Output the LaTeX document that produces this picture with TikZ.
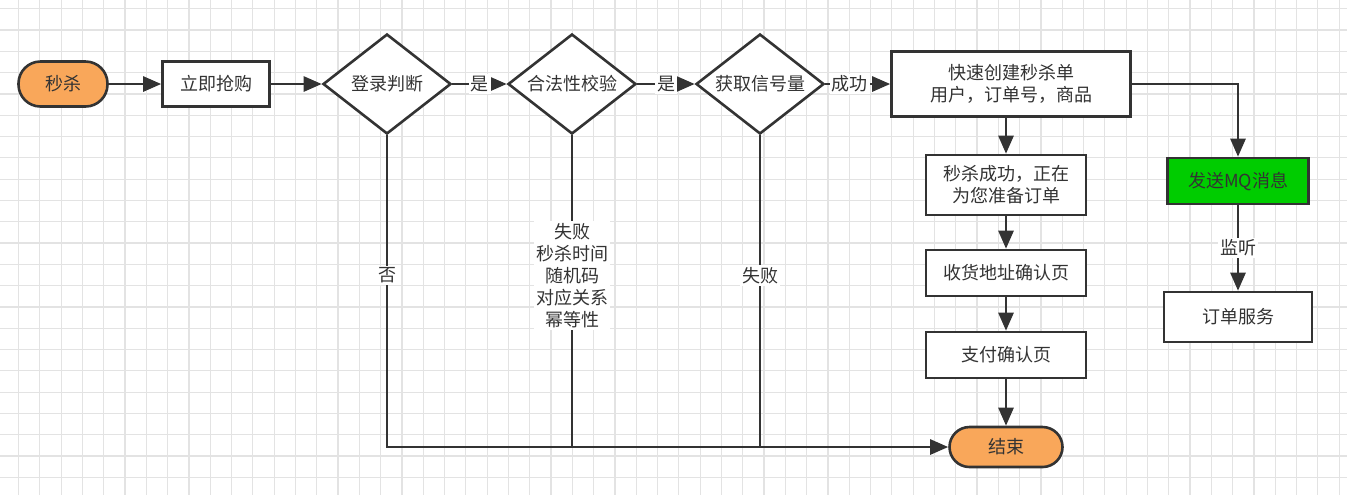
\documentclass[tikz,border=0pt]{standalone}
\usepackage{fontspec}
\setmainfont{Noto Sans CJK SC}
\usetikzlibrary{arrows.meta,shapes.geometric}

\definecolor{linegray}{HTML}{333333}
\definecolor{txtgray}{HTML}{333333}
\definecolor{gridgray}{HTML}{E3E3E3}
\definecolor{termorange}{HTML}{F9A75A}
\definecolor{mqgreen}{HTML}{00CC00}

\begin{document}
\begin{tikzpicture}[x=0.5pt,y=-0.5pt,>={Triangle[length=9pt,width=7.5pt]},
  every node/.style={font=\fontsize{9}{11}\selectfont,text=txtgray},
  box/.style={draw=linegray,line width=1.3pt,fill=white,align=center,inner sep=0pt},
  term/.style={box,rounded corners=10pt,fill=termorange},
  decide/.style={draw=linegray,line width=1.3pt,fill=white,diamond,aspect=1.3,
    minimum width=64pt,minimum height=50pt,inner sep=0pt},
  flow/.style={->,draw=linegray,line width=1.3pt},
  lbl/.style={fill=white,inner sep=1pt,align=center}]
  \useasboundingbox (0,0) rectangle (1347,495);
  \fill[white] (0,0) rectangle (1347,495);
  % background grid
  \foreach \gx in {18.5,39.8,...,1347} \draw[gridgray,line width=0.6pt] (\gx,0)--(\gx,495);
  \foreach \gy in {8.7,30,...,495} \draw[gridgray,line width=0.6pt] (0,\gy)--(1347,\gy);

  % main row
  \node[term,minimum width=44.5pt,minimum height=22.5pt,rounded corners=11pt] (start) at (63,84) {秒杀};
  \node[box,minimum width=53.5pt,minimum height=22.5pt] (buy) at (216,84) {立即抢购};
  \node[decide] (login) at (387,84) {登录判断};
  \node[decide] (check) at (572,84) {合法性校验};
  \node[decide] (sema) at (760,84) {获取信号量};
  \node[box,minimum width=119.5pt,minimum height=32.5pt] (create) at (1011,84) {快速创建秒杀单\\用户，订单号，商品};

  % order column
  \node[box,minimum width=80pt,minimum height=30pt] (ok) at (1006,185) {秒杀成功，正在\\为您准备订单};
  \node[box,minimum width=80pt,minimum height=23pt] (addr) at (1006,273) {收货地址确认页};
  \node[box,minimum width=80pt,minimum height=23pt] (pay) at (1006,355) {支付确认页};
  \node[term,minimum width=56.5pt,minimum height=20pt] (end) at (1006,447) {结束};

  % message column
  \node[box,fill=mqgreen,minimum width=70.5pt,minimum height=23pt] (mq) at (1238,181) {发送MQ消息};
  \node[box,minimum width=74pt,minimum height=25pt] (orders) at (1238,317) {订单服务};

  \draw[flow] (start) -- (buy);
  \draw[flow] (buy) -- (login);
  \draw[flow] (login) -- node[lbl]{是} (check);
  \draw[flow] (check) -- node[lbl]{是} (sema);
  \draw[flow] (sema) -- node[lbl,pos=0.38]{成功} (create);
  \draw[flow] (create.south -| ok.north) -- (ok);
  \draw[flow] (ok) -- (addr);
  \draw[flow] (addr) -- (pay);
  \draw[flow] (pay) -- (end);
  \draw[flow] (create) -| (mq);
  \draw[flow] (mq) -- node[lbl]{监听} (orders);

  % failure paths
  \coordinate (j1) at (login.south |- end.west);
  \draw[flow] (login.south) -- node[lbl,pos=0.45]{否} (j1) -- (end.west);
  \draw[linegray,line width=1.3pt] (check.south) -- node[lbl,pos=0.45]{失败\\秒杀时间\\随机码\\对应关系\\幂等性} (check.south |- end.west);
  \draw[linegray,line width=1.3pt] (sema.south) -- node[lbl,pos=0.45]{失败} (sema.south |- end.west);
\end{tikzpicture}
\end{document}
